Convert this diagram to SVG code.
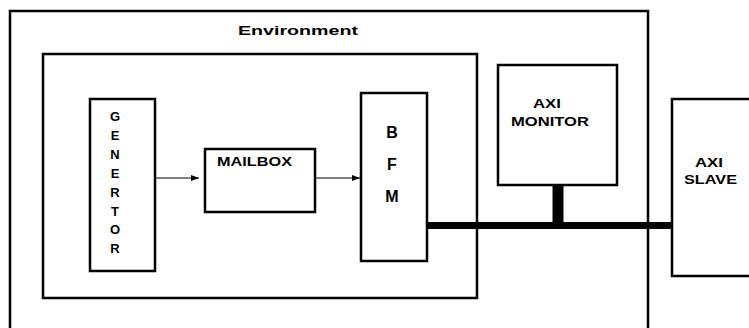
<svg xmlns="http://www.w3.org/2000/svg" width="749" height="328" viewBox="0 0 749 328">
<defs>
<style>
.box{fill:none;stroke:#000;stroke-width:2.5}
.fbox{fill:#fff;stroke:#000;stroke-width:2.5}
.t{font-family:"Liberation Sans",Arial,sans-serif;font-weight:bold;fill:#000}
.s{font-size:12px}
.l{font-size:13px;text-anchor:middle}
.b{font-size:16px;text-anchor:middle}
.arr{stroke:#000;stroke-width:1;fill:none}
.bus{stroke:#000;fill:none}
</style>
<marker id="ah" markerWidth="8" markerHeight="6" refX="8" refY="3" orient="auto" markerUnits="userSpaceOnUse">
<path d="M0,0 L8,3 L0,6 Z" fill="#000"/>
</marker>
</defs>
<rect width="749" height="328" fill="#fff"/>
<g id="environment">
<rect class="box" x="10" y="11" width="638" height="330"/>
<text class="t s" x="238" y="35" textLength="120" lengthAdjust="spacingAndGlyphs">Environment</text>
</g>
<g id="inner">
<rect class="box" x="43" y="54" width="434" height="244"/>
</g>
<g id="generator">
<rect class="fbox" x="90" y="99" width="65" height="172"/>
<text class="t l" x="115" y="121">G</text>
<text class="t l" x="115" y="140">E</text>
<text class="t l" x="115" y="159">N</text>
<text class="t l" x="115" y="178">E</text>
<text class="t l" x="115" y="197">R</text>
<text class="t l" x="115" y="216">T</text>
<text class="t l" x="115" y="234">O</text>
<text class="t l" x="115" y="253">R</text>
</g>
<g id="mailbox">
<rect class="fbox" x="205" y="149" width="110" height="63"/>
<text class="t s" x="217" y="166" textLength="75" lengthAdjust="spacingAndGlyphs">MAILBOX</text>
</g>
<g id="bfm">
<rect class="fbox" x="361" y="93" width="66" height="168"/>
<text class="t b" x="392" y="138">B</text>
<text class="t b" x="392" y="170">F</text>
<text class="t b" x="392" y="202">M</text>
</g>
<g id="axi_monitor">
<rect class="fbox" x="498" y="65" width="119" height="120"/>
<text class="t s" x="533" y="108" textLength="28" lengthAdjust="spacingAndGlyphs">AXI</text>
<text class="t s" x="511" y="126" textLength="78" lengthAdjust="spacingAndGlyphs">MONITOR</text>
</g>
<g id="axi_slave">
<rect class="fbox" x="672" y="99" width="90" height="177"/>
<text class="t s" x="695" y="167" textLength="28" lengthAdjust="spacingAndGlyphs">AXI</text>
<text class="t s" x="684" y="184" textLength="53" lengthAdjust="spacingAndGlyphs">SLAVE</text>
</g>
<g id="connectors">
<line class="arr" x1="156" y1="178" x2="199" y2="178" marker-end="url(#ah)"/>
<line class="arr" x1="316" y1="178" x2="360" y2="178" marker-end="url(#ah)"/>
<line class="bus" x1="428" y1="225.5" x2="672" y2="225.5" stroke-width="7"/>
<line class="bus" x1="558" y1="186" x2="558" y2="223" stroke-width="11"/>
</g>
</svg>
